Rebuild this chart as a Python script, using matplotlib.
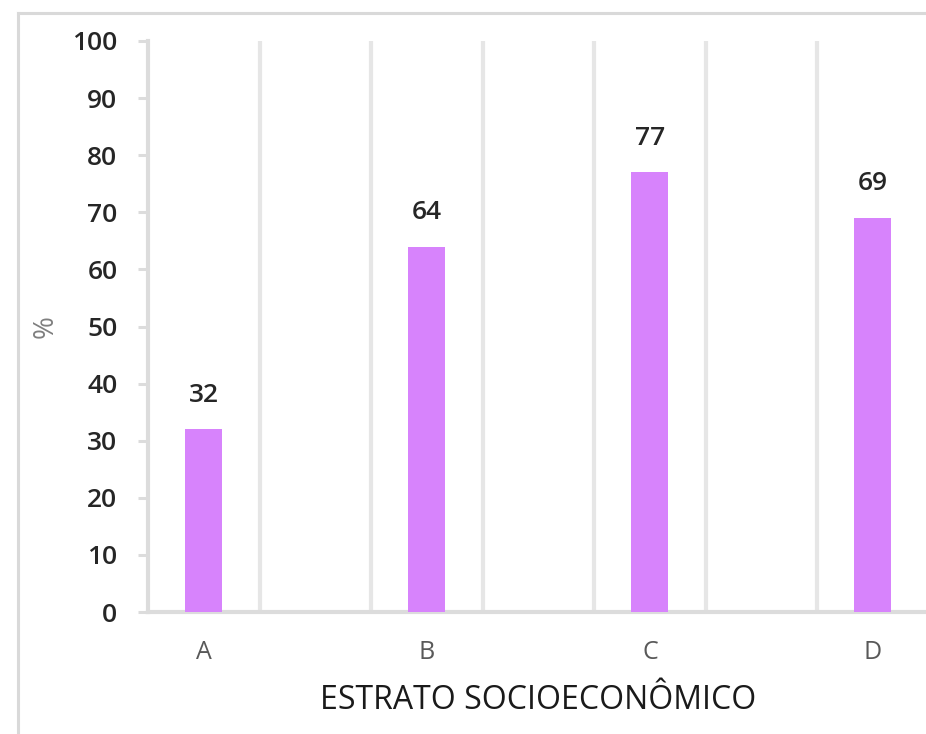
import matplotlib
matplotlib.use('Agg')
import matplotlib.pyplot as plt
from matplotlib.lines import Line2D

categories = ['A', 'B', 'C', 'D']
values = [32, 64, 77, 69]
yticks = [0, 10, 20, 30, 40, 50, 60, 70, 80, 90, 100]

BAR = '#d783fc'
GRID = '#dcdcdc'

plt.rcParams['font.family'] = ['Open Sans', 'DejaVu Sans']

fig = plt.figure(figsize=(9.26, 7.34), dpi=100)

# light frame around the chart area (runs off the right/bottom edge)
fx, fy = 17.5 / 926, 1 - 12.5 / 734
fig.add_artist(Line2D([fx, fx], [-0.05, fy], transform=fig.transFigure,
                      color='#d9d9d9', lw=2.2))
fig.add_artist(Line2D([fx, 1.05], [fy, fy], transform=fig.transFigure,
                      color='#d9d9d9', lw=2.2))

ax = fig.add_axes([148 / 926, 122 / 734, 780.75 / 926, 571 / 734])
x = list(range(len(categories)))
ax.bar(x, values, width=0.166, color=BAR, zorder=3)

for xi, v in zip(x, values):
    ax.annotate(str(v), (xi, v), xytext=(0, 20), textcoords='offset points',
                ha='center', va='baseline', fontsize=19, color='#262626',
                fontweight='semibold')

# vertical separators (the last one falls outside the visible area)
for i in range(len(categories)):
    for off in (-0.25, 0.25):
        pos = i + off
        if pos <= -0.25 or pos >= 3.2:
            continue
        ax.axvline(pos, color='#e6e6e6', lw=3, zorder=1)

ax.set_xlim(-0.25, 3.25)
ax.set_ylim(0, 100)
ax.set_yticks(yticks)
ax.set_xticks(x)
ax.set_xticklabels(categories)

for s in ('top', 'right'):
    ax.spines[s].set_visible(False)
for s in ('left', 'bottom'):
    ax.spines[s].set_color(GRID)
    ax.spines[s].set_linewidth(3)

ax.tick_params(axis='y', length=7, width=2.2, color=GRID, pad=15,
               labelsize=19, labelcolor='#262626')
for t in ax.get_yticklabels():
    t.set_fontweight('semibold')
ax.tick_params(axis='x', length=0, pad=20, labelsize=18, labelcolor='#595959')

ax.set_xlabel('ESTRATO SOCIOECONÔMICO', fontsize=23, color='#1a1a1a',
              labelpad=14, fontweight='medium')
ax.set_ylabel('%', fontsize=20, color='#7f7f7f')
ax.yaxis.set_label_coords(-0.113, 0.5)

fig.savefig('out.png', dpi=100)
